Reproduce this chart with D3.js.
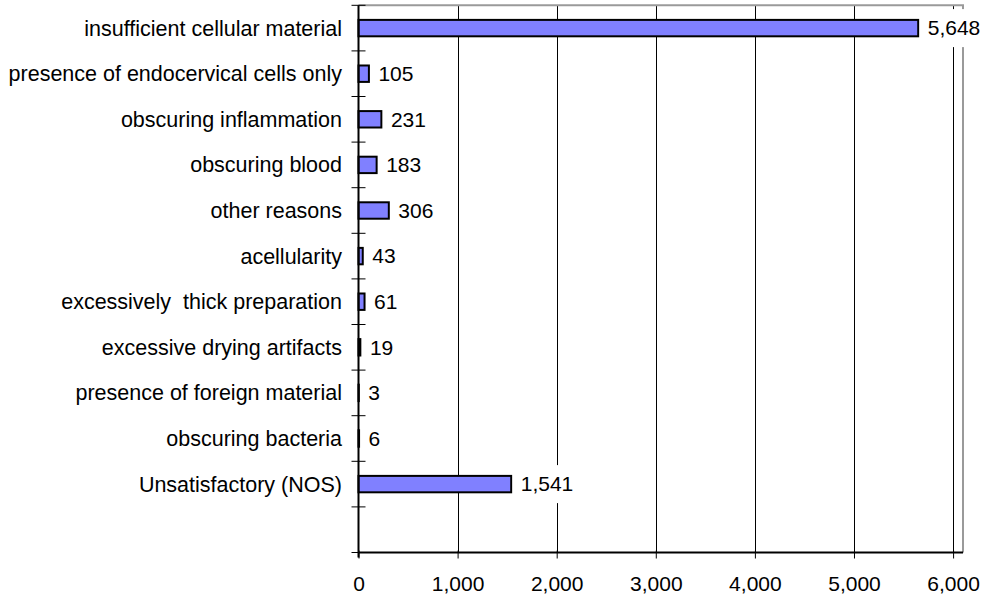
<!DOCTYPE html>
<html>
<head>
<meta charset="utf-8">
<script src="https://cdn.jsdelivr.net/npm/d3@7"></script>
<style>
  html, body { margin: 0; padding: 0; background: #fff; }
  svg text { font-family: Arial, "Liberation Sans", sans-serif; font-size: 21px; fill: #000; }
  svg text.cat { font-size: 21.5px; }
</style>
</head>
<body>
<svg id="chart" width="985" height="596"></svg>
<script>
// Reasons for unsatisfactory specimens (counts)
const categories = [
  "insufficient cellular material",
  "presence of endocervical cells only",
  "obscuring inflammation",
  "obscuring blood",
  "other reasons",
  "acellularity",
  "excessively  thick preparation",
  "excessive drying artifacts",
  "presence of foreign material",
  "obscuring bacteria",
  "Unsatisfactory (NOS)",
  ""
];
const counts = [5648, 105, 231, 183, 306, 43, 61, 19, 3, 6, 1541, null];
const xTickValues = [0, 1000, 2000, 3000, 4000, 5000, 6000];

const svg = d3.select("#chart");
const plotLeft = 358.5, plotRight = 963, plotTop = 5.3, plotBottom = 552.5;

const x = d3.scaleLinear().domain([0, 6100]).range([plotLeft, plotRight]);
const y = d3.scaleBand().domain(categories.map((c, i) => i)).range([plotTop, plotBottom]).padding(0);
const fmt = d3.format(",");

// vertical gridlines
svg.append("g").selectAll("line")
  .data(xTickValues.filter(v => v > 0))
  .join("line")
  .attr("x1", d => Math.round(x(d)) + 0.5).attr("x2", d => Math.round(x(d)) + 0.5)
  .attr("y1", plotTop).attr("y2", plotBottom)
  .attr("stroke", "#000").attr("stroke-width", 1);

// plot frame (top and right edges)
svg.append("path")
  .attr("d", `M${plotLeft},${plotTop} H${plotRight} V${plotBottom}`)
  .attr("fill", "none").attr("stroke", "#9a9a9a").attr("stroke-width", 2);

// bars
const barH = y.bandwidth() * 0.36;
const rows = categories.map((c, i) => ({ c, i, v: counts[i] })).filter(d => d.v !== null);
svg.append("g").selectAll("rect")
  .data(rows)
  .join("rect")
  .attr("x", x(0))
  .attr("y", d => y(d.i) + y.bandwidth() / 2 - barH / 2)
  .attr("width", d => x(d.v) - x(0))
  .attr("height", barH)
  .attr("fill", "#8080ff")
  .attr("stroke", "#000")
  .attr("stroke-width", 2);

// x axis
const xAxis = d3.axisBottom(x).tickValues(xTickValues).tickFormat(fmt).tickSize(6).tickPadding(18);
const gx = svg.append("g").attr("transform", `translate(0,${plotBottom})`).call(xAxis);
gx.attr("font-size", null).attr("font-family", null);
gx.select(".domain").attr("d", `M${plotLeft},0 H${plotRight}`).attr("stroke", "#000").attr("stroke-width", 2);
gx.selectAll(".tick line").attr("stroke", "#000").attr("y1", -2).attr("y2", 6);

// y axis line with ticks at band boundaries
const bounds = categories.map((c, i) => y(i)).concat([plotBottom]);
svg.append("line")
  .attr("x1", plotLeft).attr("x2", plotLeft).attr("y1", plotTop).attr("y2", plotBottom + 5)
  .attr("stroke", "#000").attr("stroke-width", 2);
svg.append("g").selectAll("line")
  .data(bounds)
  .join("line")
  .attr("x1", plotLeft - 7).attr("x2", plotLeft + 7)
  .attr("y1", d => d).attr("y2", d => d)
  .attr("stroke", "#000").attr("stroke-width", 1);

// category labels
svg.append("g").selectAll("text")
  .data(categories)
  .join("text")
  .attr("class", "cat")
  .attr("x", 342)
  .attr("y", (d, i) => y(i) + y.bandwidth() / 2)
  .attr("dy", "0.35em")
  .attr("text-anchor", "end")
  .style("white-space", "pre")
  .text(d => d);

// value labels on white boxes
const lab = svg.append("g").selectAll("g")
  .data(rows)
  .join("g")
  .attr("transform", d => `translate(${x(d.v) + 1.5},${y(d.i) + y.bandwidth() / 2})`);
lab.append("rect")
  .attr("x", 0).attr("y", -19)
  .attr("height", 38)
  .attr("fill", "#fff");
lab.append("text")
  .attr("x", 8)
  .attr("dy", "0.35em")
  .text(d => fmt(d.v));
lab.each(function () {
  const g = d3.select(this);
  const w = g.select("text").node().getComputedTextLength();
  g.select("rect").attr("width", w + 14);
});
</script>
</body>
</html>
